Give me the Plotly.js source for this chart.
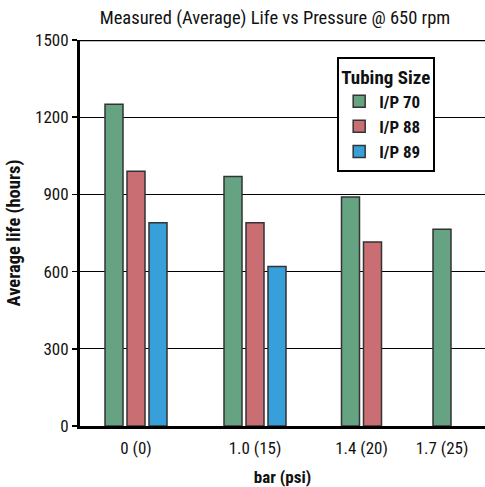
<!DOCTYPE html>
<html><head><meta charset="utf-8">
<script src="https://cdn.plot.ly/plotly-3.0.1.min.js"></script>
<style>html,body{margin:0;padding:0;background:#fff}#chart{width:485px;height:487px}</style>
</head><body><div id="chart"></div>
<script>
// Data
const categories = ["0 (0)", "1.0 (15)", "1.4 (20)", "1.7 (25)"];
const seriesNames = ["I/P 70", "I/P 88", "I/P 89"];
const ip70 = [1250, 970, 890, 765];
const ip88 = [990, 790, 715, null];
const ip89 = [790, 620, null, null];
const yTicks = [0, 300, 600, 900, 1200, 1500];

// Layout helpers (axis units = pixels of the plot area)
const catCenters = [56, 175, 281.5, 362];
const slotPitch = 22, barWidth = 18;
const colors = ["#66A383", "#C96E72", "#379FD9"];
const allSeries = [ip70, ip88, ip89];

const traces = allSeries.map((vals, s) => {
  const xs = [], ys = [];
  vals.forEach((v, c) => {
    if (v === null) return;
    const present = allSeries.map(a => a[c]).filter(x => x !== null).length;
    const idx = allSeries.slice(0, s).filter(a => a[c] !== null).length;
    xs.push(catCenters[c] + (idx - (present - 1) / 2) * slotPitch);
    ys.push(v);
  });
  return {
    type: "bar", name: seriesNames[s], x: xs, y: ys, width: barWidth,
    marker: {color: colors[s], line: {color: "#333", width: 1.5}},
    hoverinfo: "skip"
  };
});

const fontFam = "'Liberation Sans Narrow', 'Roboto Condensed', Roboto, Arial, sans-serif";
const layout = {
  width: 485, height: 487,
  margin: {l: 80, r: 0, t: 40, b: 61, pad: 0},
  paper_bgcolor: "#fff", plot_bgcolor: "#fff",
  barmode: "overlay",
  showlegend: true,
  font: {family: fontFam, color: "#111", size: 16},
  title: {text: "Measured (Average) Life vs Pressure @ 650 rpm", x: 0.567, xref: "container", xanchor: "center", y: 0.965, yref: "container", yanchor: "middle", font: {size: 18.5, family: fontFam, color: "#111"}},
  xaxis: {
    range: [0, 405], tickmode: "array", tickvals: catCenters, ticktext: categories,
    showgrid: false, zeroline: false, showline: true, linecolor: "#000", linewidth: 3,
    ticks: "", tickfont: {size: 17, family: fontFam}, ticklabelstandoff: 5,
    title: {text: "<b>bar (psi)</b>", font: {size: 17, family: fontFam}, standoff: 15}
  },
  yaxis: {
    range: [0, 1500], tickmode: "array", tickvals: yTicks,
    showgrid: true, gridcolor: "#000", gridwidth: 1.2, zeroline: false,
    showline: true, linecolor: "#000", linewidth: 3, mirror: false,
    ticks: "outside", ticklen: 5, tickcolor: "#000", tickwidth: 1.5,
    tickfont: {size: 17, family: fontFam},
    title: {text: "<b>Average life (hours)</b>", font: {size: 18.5, family: fontFam}, standoff: 10}
  },
  legend: {
    x: 0.635, y: 0.956, xanchor: "left", yanchor: "top",
    bgcolor: "#fff", bordercolor: "#000", borderwidth: 2,
    font: {size: 17, family: fontFam, color: "#111", weight: "bold"},
    title: {text: "<b>Tubing Size</b>", font: {size: 19, family: fontFam}},
    itemwidth: 30, tracegroupgap: 0
  },
  shapes: [
    {type: "line", xref: "paper", yref: "y", x0: 0, x1: 1, y0: 1500, y1: 1500, line: {color: "#000", width: 2.5}}
  ]
};
Plotly.newPlot("chart", traces, layout, {displayModeBar: false, staticPlot: true});
</script></body></html>
